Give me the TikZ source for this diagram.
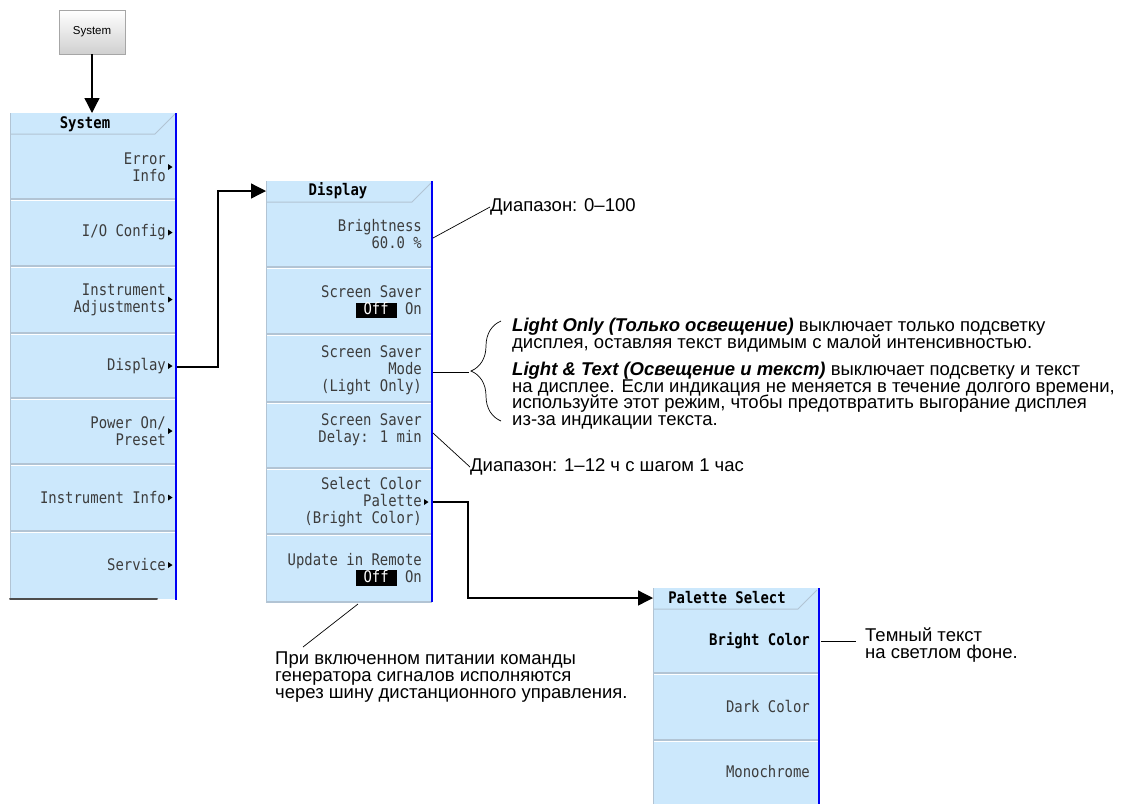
\documentclass[tikz,border=0pt]{standalone}
\usepackage{fontspec}
\setmainfont{Liberation Sans}
\newfontfamily\menufont[FakeStretch=0.87]{DejaVu Sans Mono}
\usetikzlibrary{arrows.meta, positioning, calc, decorations.pathreplacing}

\definecolor{menublue}{RGB}{204,232,252}
\definecolor{sepgray}{RGB}{178,196,212}
\definecolor{itemgray}{RGB}{60,60,60}
\definecolor{edgeblue}{RGB}{0,0,245}
\definecolor{keybot}{RGB}{208,208,208}

% black "Off" key inside a menu entry
\newcommand{\offkey}{{\setlength{\fboxsep}{0pt}\colorbox{black}{\rule[-3.5pt]{0pt}{15.5pt}\hspace{8pt}\textcolor{white}{Off}\hspace{8pt}}}}
% tight leading for the notes
\newcommand{\notefont}{\fontsize{18.5}{16.8}\selectfont\setlength{\lineskiplimit}{-20pt}}

\tikzset{
  menutext/.style={font=\menufont\fontsize{16}{17}\selectfont, text=itemgray, align=right, anchor=east, inner sep=0pt},
  headtext/.style={font=\menufont\bfseries\fontsize{16}{17}\selectfont, text=black, inner sep=0pt},
  notetext/.style={font=\notefont, align=left, inner sep=0pt},
  sepline/.style={draw=sepgray, line width=1.3pt},
  blueedge/.style={draw=edgeblue, line width=2pt},
  leader/.style={line width=0.7pt},
  link/.style={line width=1.3pt, -{Triangle[length=15pt,width=15pt]}},
  submark/.pic={\fill (0,-3) -- (4.5,0) -- (0,3) -- cycle;}
}

\begin{document}
\begin{tikzpicture}[x=1pt, y=-1pt]
    \useasboundingbox (0,0) rectangle (1121,804);

    % System hardkey
    \node[draw=gray!70, top color=white, bottom color=keybot, minimum width=66pt,
          minimum height=44pt, inner sep=0pt, font=\fontsize{11.5}{13}\selectfont] (syskey) at (92,32) {System};
    \coordinate (systop) at (92,113);
    \draw[link] (syskey.south) -- (systop);

    % System menu
    \fill[menublue] (10,113) rectangle (176,599);
    \draw[sepgray, line width=1pt] (10,134) -- (155,134) -- (175,114);
    \foreach \y in {199,266,333,398,464,531} {
        \draw[sepline] (10,\y) -- (176,\y);
        \draw[white, line width=1pt] (10,\y+1.5) -- (176,\y+1.5);
    }
    \draw[sepgray] (10,113) -- (10,599);
    \draw[gray!60!black, line width=2pt, line cap=round] (10,599) -- (157,599);
    \draw[blueedge] (176,113) -- (176,600);
    \node[headtext] (syshead) at (85,124) {System};
    \node[menutext] (syserr)  at (166,167)   {Error\\Info};
    \node[menutext] (sysio)   at (166,232.5) {I/O Config};
    \node[menutext] (sysadj)  at (166,299.5) {Instrument\\Adjustments};
    \node[menutext] (sysdsp)  at (166,366)   {Display};
    \node[menutext] (syspwr)  at (166,431)   {Power On/\\Preset};
    \node[menutext] (sysinfo) at (166,497.5) {Instrument Info};
    \node[menutext] (syssvc)  at (166,565)   {Service};
    \foreach \y in {167,232.5,299.5,366,431,497.5,565}
        \pic at (168,\y) {submark};

    % Display menu
    \fill[menublue] (266,181) rectangle (432,602);
    \draw[sepgray, line width=1pt] (266,202) -- (412,202) -- (431,183);
    \foreach \y in {267,334,402,468,534,602} {
        \draw[sepline] (266,\y) -- (432,\y);
        \draw[white, line width=1pt] (266,\y+1.5) -- (432,\y+1.5);
    }
    \draw[sepgray] (266,181) -- (266,602);
    \draw[blueedge] (432,181) -- (432,602);
    \node[headtext] (dsphead) at (338,191) {Display};
    \node[menutext] (dspbri) at (422,234.5) {Brightness\\60.0 \%};
    \node[menutext] (dspss)  at (422,302)   {Screen Saver\\\offkey\ On\hspace{8pt}};
    \node[menutext] (dspmod) at (422,370)   {Screen Saver\\Mode\\(Light Only)};
    \node[menutext] (dspdel) at (422,430)   {Screen Saver\\Delay: 1 min};
    \node[menutext] (dsppal) at (422,502)   {Select Color\\Palette\\(Bright Color)};
    \node[menutext] (dspupd) at (422,569.5) {Update in Remote\\\offkey\ On\hspace{8pt}};
    \pic at (424,502) {submark};

    % Palette Select menu
    \fill[menublue] (653,588) rectangle (819,804);
    \draw[sepgray, line width=1pt] (653,609) -- (798,609) -- (817,590);
    \foreach \y in {673,740} {
        \draw[sepline] (653,\y) -- (819,\y);
        \draw[white, line width=1pt] (653,\y+1.5) -- (819,\y+1.5);
    }
    \draw[sepgray] (653,588) -- (653,804);
    \draw[blueedge] (819,588) -- (819,804);
    \node[headtext] (palhead) at (727,598) {Palette Select};
    \node[menutext, text=black, font=\menufont\bfseries\fontsize{16}{17}\selectfont] (palbri) at (810,641) {Bright Color};
    \node[menutext] (paldark) at (810,706.5) {Dark Color};
    \node[menutext] (palmono) at (810,772)   {Monochrome};

    % Menu links
    \coordinate (sysdspout) at (177,367);
    \coordinate (dspin) at (266,191);
    \draw[link] (sysdspout) -- ++(41,0) |- (dspin);
    \coordinate (dsppalout) at (433,502);
    \coordinate (palin) at (653,598);
    \draw[link] (dsppalout) -- ++(35,0) |- (palin);

    % Notes
    \node[notetext, anchor=west] (notebri) at (490,207) {Диапазон: 0–100};
    \draw[leader] (433,238) -- (notebri.west);

    \coordinate (modout) at (433,372);
    \coordinate (bracetip) at (469,372);
    \draw[leader] (modout) -- (bracetip);
    \draw[leader, decorate, decoration={brace, amplitude=30pt}] (501,421) -- (501,321);
    \node[notetext, anchor=north west] (notemod) at (512,318) {%
        {\bfseries\itshape Light Only (Только освещение)} выключает только подсветку\\
        дисплея, оставляя текст видимым с малой интенсивностью.\\[10pt]
        {\bfseries\itshape Light \& Text (Освещение и текст)} выключает подсветку и текст\\
        на дисплее. Если индикация не меняется в течение долгого времени,\\
        используйте этот режим, чтобы предотвратить выгорание дисплея\\
        из-за индикации текста.};

    \node[notetext, anchor=west] (notedel) at (470,467) {Диапазон: 1–12 ч с шагом 1 час};
    \draw[leader] (433,433) -- (notedel.west);

    \node[notetext, anchor=north west] (noteupd) at (275,652) {%
        При включенном питании команды\\
        генератора сигналов исполняются\\
        через шину дистанционного управления.};
    \draw[leader] (358,604) -- (303,647);

    \node[notetext, anchor=north west] (notepal) at (865,628) {Темный текст\\на светлом фоне.};
    \coordinate (palbriout) at (821,641);
    \draw[leader] (palbriout) -- ([xshift=-9pt]palbriout -| notepal.west);
\end{tikzpicture}
\end{document}
